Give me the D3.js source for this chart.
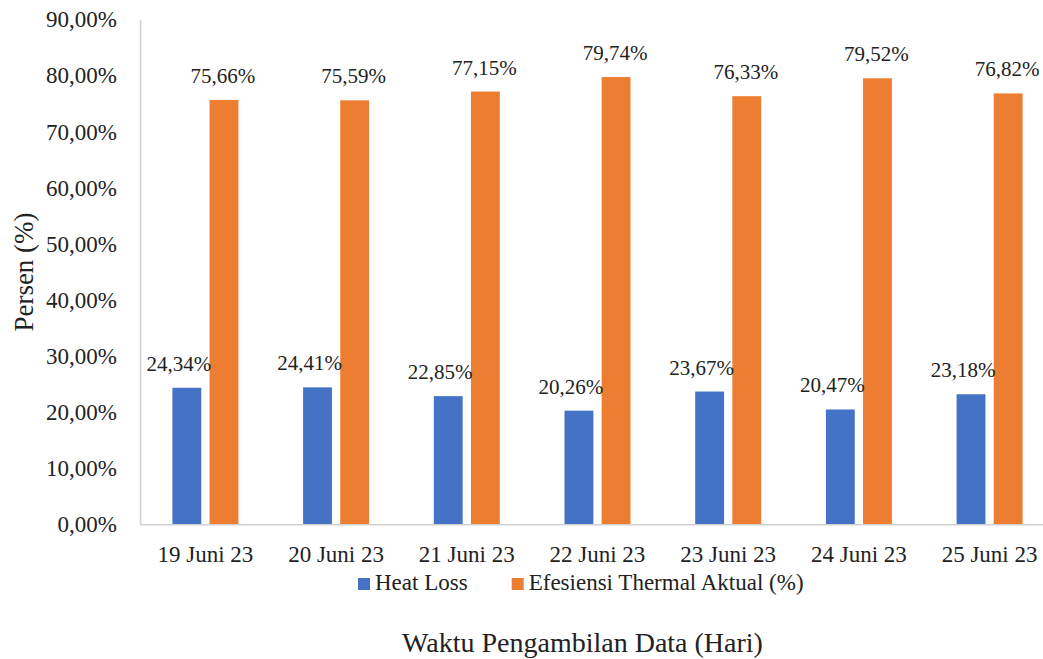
<!DOCTYPE html>
<html>
<head>
<meta charset="utf-8">
<script src="https://cdn.jsdelivr.net/npm/d3@7"></script>
<style>
  body { margin: 0; background: #fff; }
  svg { display: block; font-family: "Liberation Serif", "Times New Roman", serif; }
</style>
</head>
<body>
<div id="chart"></div>
<script>
// Heat loss vs thermal efficiency per day
const days = ['19 Juni 23', '20 Juni 23', '21 Juni 23', '22 Juni 23', '23 Juni 23', '24 Juni 23', '25 Juni 23'];
const seriesNames = ['Heat Loss', 'Efesiensi Thermal Aktual (%)'];
const heatLoss = [24.34, 24.41, 22.85, 20.26, 23.67, 20.47, 23.18];
const efisiensi = [75.66, 75.59, 77.15, 79.74, 76.33, 79.52, 76.82];
const yTicks = [0, 10, 20, 30, 40, 50, 60, 70, 80, 90];
const colors = ['#4472C4', '#ED7D31'];

const width = 1043, height = 659;
const margin = { top: 19.5, left: 140, bottom: 134.7 };
const plotRight = 140 + 7 * 130.7; // last category is cut off by the edge

const idLocale = d3.formatLocale({ decimal: ',', thousands: '.', grouping: [3], currency: ['', ''] });
const pct = v => idLocale.format('.2%')(v / 100);

const svg = d3.select('#chart')
  .append('svg')
  .attr('width', width)
  .attr('height', height);

const x0 = d3.scaleBand()
  .domain(days)
  .range([margin.left, plotRight])
  .padding(0);

const x1 = d3.scaleBand()
  .domain(seriesNames)
  .range([32.4, 98.4])
  .paddingInner(0.223)
  .paddingOuter(0);

const y = d3.scaleLinear()
  .domain([0, 90])
  .range([height - margin.bottom, margin.top]);

const rows = days.map((d, i) => ({ day: d, values: [heatLoss[i], efisiensi[i]] }));

// bars
const groups = svg.append('g')
  .selectAll('g')
  .data(rows)
  .join('g')
  .attr('transform', d => `translate(${x0(d.day)},0)`);

groups.selectAll('rect')
  .data(d => d.values.map((v, i) => ({ name: seriesNames[i], value: v, i })))
  .join('rect')
  .attr('x', d => x1(d.name))
  .attr('y', d => y(d.value))
  .attr('width', x1.bandwidth())
  .attr('height', d => y(0) - y(d.value))
  .attr('fill', d => colors[d.i]);

// data labels
groups.selectAll('text')
  .data(d => d.values.map((v, i) => ({ name: seriesNames[i], value: v, i })))
  .join('text')
  .attr('x', d => x1(d.name) + x1.bandwidth() / 2 + (d.i === 0 ? -8 : -1))
  .attr('y', d => y(d.value) - 17)
  .attr('text-anchor', 'middle')
  .attr('font-size', 21)
  .attr('fill', '#222')
  .text(d => pct(d.value));

// y axis
const yAxis = svg.append('g')
  .attr('transform', `translate(${margin.left},0)`)
  .call(d3.axisLeft(y).tickValues(yTicks).tickSize(0).tickPadding(23).tickFormat(pct));
yAxis.select('.domain').attr('stroke', '#d0d0d0').attr('stroke-width', 1.5);
yAxis.selectAll('text').attr('font-size', 23).attr('fill', '#222')
  .attr('font-family', '"Liberation Serif", serif');

// x axis
const xAxis = svg.append('g')
  .attr('transform', `translate(0,${y(0)})`)
  .call(d3.axisBottom(x0).tickSize(0).tickPadding(21));
xAxis.select('.domain').attr('stroke', '#d0d0d0').attr('stroke-width', 1.5);
xAxis.selectAll('text').attr('font-size', 23).attr('fill', '#222')
  .attr('font-family', '"Liberation Serif", serif');

// legend
const legendX = [358, 511.7];
const legend = svg.append('g')
  .selectAll('g')
  .data(seriesNames)
  .join('g')
  .attr('transform', (d, i) => `translate(${legendX[i]},578)`);
legend.append('rect')
  .attr('width', 12)
  .attr('height', 12)
  .attr('fill', (d, i) => colors[i]);
legend.append('text')
  .attr('x', 17)
  .attr('y', 12)
  .attr('font-size', 23)
  .attr('fill', '#222')
  .text(d => d);

// axis titles
svg.append('text')
  .attr('x', 582.5)
  .attr('y', 651.7)
  .attr('text-anchor', 'middle')
  .attr('font-size', 28)
  .attr('fill', '#222')
  .text('Waktu Pengambilan Data (Hari)');

svg.append('text')
  .attr('transform', 'translate(33,272) rotate(-90)')
  .attr('text-anchor', 'middle')
  .attr('font-size', 27)
  .attr('fill', '#222')
  .text('Persen (%)');
</script>
</body>
</html>
